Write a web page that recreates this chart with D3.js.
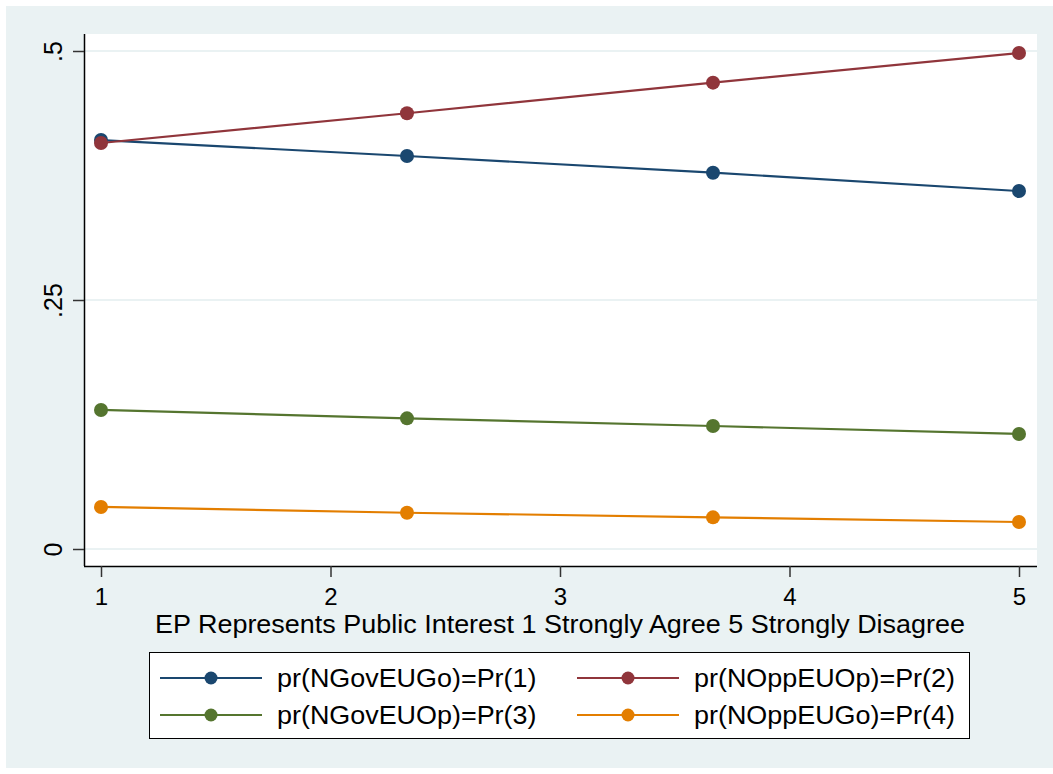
<!DOCTYPE html>
<html>
<head>
<meta charset="utf-8">
<script src="https://cdn.jsdelivr.net/npm/d3@7"></script>
<style>
  html, body { margin: 0; padding: 0; background: #ffffff; }
  svg { display: block; font-family: "Liberation Sans", Arial, sans-serif; }
</style>
</head>
<body>
<svg id="chart" width="1053" height="774"></svg>
<script>
// Predicted probabilities across the EP attitude scale
const xValues = [1, 2.3333, 3.6667, 5];
const seriesNames = [
  "pr(NGovEUGo)=Pr(1)",
  "pr(NOppEUOp)=Pr(2)",
  "pr(NGovEUOp)=Pr(3)",
  "pr(NOppEUGo)=Pr(4)"
];
const pr1 = [0.4106, 0.3946, 0.3778, 0.3594];
const pr2 = [0.4076, 0.4375, 0.4682, 0.4980];
const pr3 = [0.1396, 0.1312, 0.1235, 0.1155];
const pr4 = [0.0422, 0.0364, 0.0318, 0.0271];
const seriesColors = ["#1a476f", "#90353b", "#55752f", "#e37e00"];
const xTicks = [1, 2, 3, 4, 5];
const yTicks = [0, 0.25, 0.5];
const yTickLabels = ["0", ".25", ".5"];
const xTitle = "EP Represents Public Interest 1 Strongly Agree 5 Strongly Disagree";

const series = [pr1, pr2, pr3, pr4].map((vals, i) => ({
  name: seriesNames[i],
  color: seriesColors[i],
  points: vals.map((v, j) => ({ x: xValues[j], y: v }))
}));

const svg = d3.select("#chart");
const bg = "#eaf2f3";

// graph region background
svg.append("rect").attr("x", 6).attr("y", 6).attr("width", 1047).attr("height", 762).attr("fill", bg);

// plot region
const plot = { left: 84, top: 34, right: 1037, bottom: 566 };
svg.append("rect")
  .attr("x", plot.left).attr("y", plot.top)
  .attr("width", plot.right - plot.left).attr("height", plot.bottom - plot.top)
  .attr("fill", "#ffffff");

const x = d3.scaleLinear().domain([1, 5]).range([101, 1019]);
const y = d3.scaleLinear().domain([0, 0.5]).range([549, 51]);

// gridlines
svg.append("g").selectAll("line").data(yTicks).join("line")
  .attr("x1", plot.left).attr("x2", plot.right)
  .attr("y1", d => y(d)).attr("y2", d => y(d))
  .attr("stroke", bg).attr("stroke-width", 2);

// y axis
const yAxis = svg.append("g").attr("transform", `translate(${plot.left},0)`)
  .call(d3.axisLeft(y).tickValues(yTicks).tickSize(11).tickFormat((d, i) => yTickLabels[i]));
yAxis.select(".domain").attr("d", `M0.5,${plot.top}V${plot.bottom}`).attr("stroke", "#000").attr("stroke-width", 1.5);
yAxis.selectAll(".tick line").attr("stroke", "#333").attr("stroke-width", 1.5);
yAxis.selectAll(".tick text")
  .attr("x", null).attr("dy", null)
  .attr("transform", "translate(-22,0) rotate(-90)")
  .attr("text-anchor", "middle")
  .attr("fill", "#000")
  .attr("font-size", 25)
  .attr("font-family", "Liberation Sans, Arial, sans-serif");

// x axis
const xAxis = svg.append("g").attr("transform", `translate(0,${plot.bottom})`)
  .call(d3.axisBottom(x).tickValues(xTicks).tickSize(11).tickFormat(d3.format("d")));
xAxis.select(".domain").attr("d", `M${plot.left},0.5H${plot.right}`).attr("stroke", "#000").attr("stroke-width", 1.5);
xAxis.selectAll(".tick line").attr("stroke", "#333").attr("stroke-width", 1.5);
xAxis.selectAll(".tick text")
  .attr("y", 39).attr("dy", null)
  .attr("fill", "#000")
  .attr("font-size", 24)
  .attr("font-family", "Liberation Sans, Arial, sans-serif");

// x axis title
svg.append("text")
  .attr("x", 560).attr("y", 633)
  .attr("text-anchor", "middle")
  .attr("font-size", 26)
  .attr("textLength", 810).attr("lengthAdjust", "spacingAndGlyphs")
  .attr("fill", "#000")
  .text(xTitle);

// series lines and markers
const line = d3.line().x(d => x(d.x)).y(d => y(d.y));
const marks = svg.append("g");
series.forEach(s => {
  const g = marks.append("g");
  g.append("path").datum(s.points)
    .attr("d", line).attr("fill", "none")
    .attr("stroke", s.color).attr("stroke-width", 2.2);
  g.selectAll("circle").data(s.points).join("circle")
    .attr("cx", d => x(d.x)).attr("cy", d => y(d.y))
    .attr("r", 7).attr("fill", s.color);
});

// legend
const legend = svg.append("g");
legend.append("rect")
  .attr("x", 149.5).attr("y", 652.5).attr("width", 820).attr("height", 86)
  .attr("fill", "#ffffff").attr("stroke", "#000").attr("stroke-width", 1);
const legendCols = [160, 577];
const legendRows = [678, 715];
series.forEach((s, i) => {
  const cx = legendCols[i % 2];
  const cy = legendRows[Math.floor(i / 2)];
  const g = legend.append("g").attr("transform", `translate(${cx},${cy})`);
  g.append("line").attr("x1", 0).attr("x2", 102).attr("y1", 0).attr("y2", 0)
    .attr("stroke", s.color).attr("stroke-width", 2.2);
  g.append("circle").attr("cx", 51).attr("cy", 0).attr("r", 6.5).attr("fill", s.color);
  const t = g.append("text").attr("x", 117).attr("y", 9)
    .attr("font-size", 26).attr("fill", "#000")
    .text(s.name);
  // slightly wider glyph set, as in the exported graph
  const w = t.node().getComputedTextLength();
  t.attr("textLength", w * 1.035).attr("lengthAdjust", "spacingAndGlyphs");
});
</script>
</body>
</html>
